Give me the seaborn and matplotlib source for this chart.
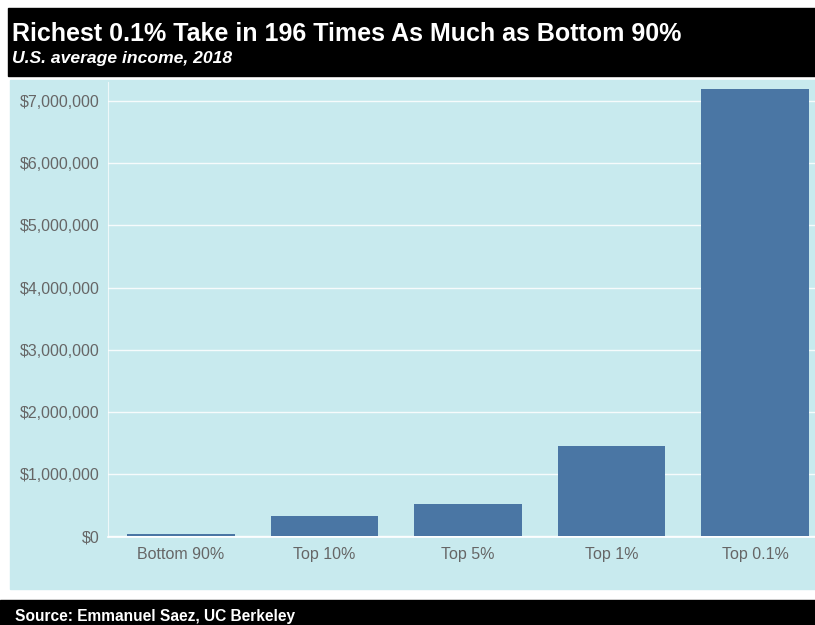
import matplotlib
matplotlib.use("Agg")
import matplotlib.pyplot as plt
import matplotlib.ticker as mticker
from matplotlib.patches import Rectangle
import seaborn as sns
import pandas as pd

groups = ["Bottom 90%", "Top 10%", "Top 5%", "Top 1%", "Top 0.1%"]
income = [36700, 332000, 525000, 1450000, 7200000]
y_ticks = [0, 1000000, 2000000, 3000000, 4000000, 5000000, 6000000, 7000000]

title = "Richest 0.1% Take in 196 Times As Much as Bottom 90%"
subtitle = "U.S. average income, 2018"
source = "Source: Emmanuel Saez, UC Berkeley"

PANEL = "#c8eaee"
BAR = "#4a76a4"
TICK = "#666666"

sns.set_theme(style="white")
plt.rcParams["font.family"] = ["Liberation Sans", "DejaVu Sans"]

W, H = 815, 625
fig = plt.figure(figsize=(W / 100, H / 100), dpi=100, facecolor="white")

def fx(px):
    return px / W

def fy(py):
    return 1 - py / H

# title box
fig.patches.append(Rectangle((fx(8), fy(76)), fx(815 - 8), (76 - 8) / H,
                             transform=fig.transFigure, color="black", zorder=-5))
# chart panel
fig.patches.append(Rectangle((fx(10), fy(589)), fx(815 - 10), (589 - 80) / H,
                             transform=fig.transFigure, color=PANEL, zorder=-5))
# source bar
fig.patches.append(Rectangle((0, 0), 1, (625 - 600) / H,
                             transform=fig.transFigure, color="black", zorder=-5))

fig.text(fx(12), fy(41), title, color="white", fontsize=18, fontweight="bold",
         va="baseline", ha="left")
fig.text(fx(12), fy(63), subtitle, color="white", fontsize=12.6, fontweight="bold",
         style="italic", va="baseline", ha="left")
fig.text(fx(15), fy(621), source, color="white", fontsize=11.2, fontweight="bold",
         va="baseline", ha="left")

ax_left, ax_right, ax_zero, ax_top = 108, 815, 537, 82
ax = fig.add_axes([fx(ax_left), (H - ax_zero) / H, fx(ax_right - ax_left), (ax_zero - ax_top) / H])
ax.set_facecolor(PANEL)

df = pd.DataFrame({"group": groups, "income": income})
sns.barplot(data=df, x="group", y="income", color=BAR, saturation=1, width=0.75,
            linewidth=0, edgecolor=BAR, ax=ax, zorder=3)

ymax = 7000000 * (ax_zero - ax_top) / (537 - 101)
ax.set_ylim(-12000, ymax)
cat = 143.5
ax.set_xlim(-(181 - ax_left) / cat, 4 + (ax_right - 755) / cat)

ax.set_yticks(y_ticks)
ax.yaxis.set_major_formatter(mticker.StrMethodFormatter("${x:,.0f}"))
ax.set_xlabel("")
ax.set_ylabel("")
ax.grid(axis="y", color="white", linewidth=1.0, alpha=0.85, zorder=1)
ax.set_axisbelow(True)

for s in ["top", "right"]:
    ax.spines[s].set_visible(False)
ax.spines["left"].set_color("white")
ax.spines["left"].set_alpha(0.7)
ax.spines["left"].set_linewidth(0.8)
ax.spines["bottom"].set_color("white")
ax.spines["bottom"].set_linewidth(1.2)

ax.tick_params(axis="y", length=0, pad=6, labelsize=11.5, labelcolor=TICK)
ax.tick_params(axis="x", which="major", length=0, pad=7, labelsize=11.5, labelcolor=TICK)
ax.set_xticks([0.5, 1.5, 2.5, 3.5], minor=True)
ax.tick_params(axis="x", which="minor", length=5, width=1, color="white", direction="out")

fig.savefig("out.png", dpi=100, facecolor="white")
